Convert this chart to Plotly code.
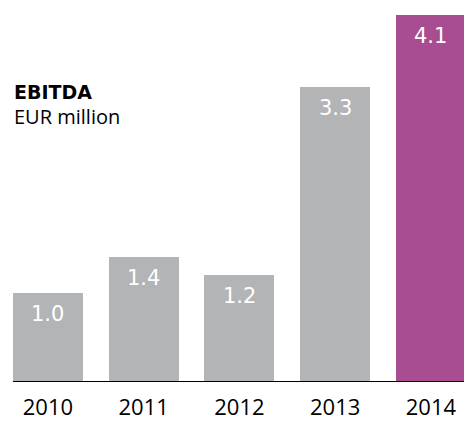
import plotly.graph_objects as go

# EBITDA, EUR million
years = ["2010", "2011", "2012", "2013", "2014"]
ebitda = [1.0, 1.4, 1.2, 3.3, 4.1]
labels = ["1.0", "1.4", "1.2", "3.3", "4.1"]

GREY = "#b3b4b6"
PURPLE = "#a84d91"
colors = [GREY] * (len(years) - 1) + [PURPLE]

W, H = 464, 421
BOTTOM = 39
BAR_W = 0.731

fig = go.Figure()
fig.add_trace(go.Bar(
    x=years,
    y=ebitda,
    width=BAR_W,
    marker=dict(color=colors, line=dict(width=0)),
    hoverinfo="skip",
))

# value labels just inside the top of each bar
for i, (v, lab) in enumerate(zip(ebitda, labels)):
    fig.add_annotation(
        x=i, y=v, xref="x", yref="y",
        text=lab, showarrow=False,
        yanchor="top", yshift=-7,
        font=dict(family="DejaVu Sans", size=21, color="white"),
    )

# baseline
fig.add_shape(
    type="line", xref="x", yref="y",
    x0=-BAR_W / 2, x1=-0.5 + W / 95.75, y0=0, y1=0,
    line=dict(color="black", width=2),
)

# title block
fig.add_annotation(
    x=0, y=1 - 92 / (H - BOTTOM), xref="paper", yref="paper",
    xanchor="left", yanchor="middle", xshift=12,
    text="<b>EBITDA</b>", showarrow=False,
    font=dict(family="DejaVu Sans", size=19, color="black"),
)
fig.add_annotation(
    x=0, y=1 - 116 / (H - BOTTOM), xref="paper", yref="paper",
    xanchor="left", yanchor="middle", xshift=12,
    text="EUR million", showarrow=False,
    font=dict(family="Open Sans", size=20, color="black"),
)

fig.update_layout(
    width=W, height=H,
    margin=dict(l=0, r=0, t=0, b=BOTTOM, autoexpand=False),
    paper_bgcolor="white", plot_bgcolor="white",
    showlegend=False,
    bargap=0,
    xaxis=dict(
        type="category",
        automargin=False,
        range=[-0.5, -0.5 + W / 95.75],
        showgrid=False, zeroline=False, showline=False,
        ticks="outside", ticklen=0, tickcolor="white",
        ticklabelstandoff=6,
        tickfont=dict(family="Open Sans", size=22, color="black"),
    ),
    yaxis=dict(
        automargin=False,
        range=[0, (H - BOTTOM) / 89.5],
        visible=False, showgrid=False, zeroline=False,
    ),
)

fig.write_html("out.html")
